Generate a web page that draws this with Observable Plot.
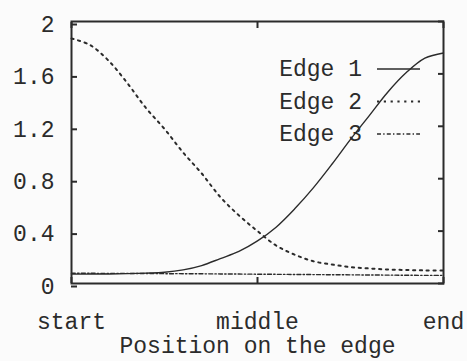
<!DOCTYPE html>
<html>
<head>
<meta charset="utf-8">
<script src="https://cdn.jsdelivr.net/npm/d3@7"></script>
<script src="https://cdn.jsdelivr.net/npm/@observablehq/plot@0.6"></script>
<style>
  html, body { margin: 0; padding: 0; background: #fbfbfb; }
</style>
</head>
<body>
<div id="chart"></div>
<script>
// Position along the edge, as a fraction from start (0) to end (1)
const position = [0, 0.05, 0.1, 0.15, 0.2, 0.25, 0.3, 0.35, 0.4, 0.45, 0.5,
                  0.55, 0.6, 0.65, 0.7, 0.75, 0.8, 0.85, 0.9, 0.95, 1];

// Values of the three edges at each position
const edge1 = [0.072, 0.072, 0.073, 0.075, 0.079, 0.086, 0.104, 0.137, 0.19, 0.245, 0.325,
               0.43, 0.57, 0.73, 0.91, 1.10, 1.28, 1.46, 1.61, 1.72, 1.76];
const edge2 = [1.87, 1.82, 1.70, 1.53, 1.34, 1.18, 1.00, 0.84, 0.66, 0.52, 0.40,
               0.29, 0.22, 0.17, 0.145, 0.125, 0.115, 0.107, 0.103, 0.10, 0.10];
const edge3 = [0.078, 0.078, 0.077, 0.077, 0.076, 0.075, 0.075, 0.074, 0.073, 0.072, 0.071,
               0.070, 0.069, 0.068, 0.067, 0.066, 0.065, 0.064, 0.063, 0.062, 0.062];

const seriesNames = ["Edge 1", "Edge 2", "Edge 3"];
const xTickValues = [0, 0.5, 1];
const xTickLabels = ["start", "middle", "end"];
const yTicks = [0, 0.4, 0.8, 1.2, 1.6, 2];
const axisTitle = "Position on the edge";

const ink = "#2b2b2b";
const font = "'Courier New', 'Liberation Mono', monospace";
const dashes = ["none", "2.2 4.6", "4 2.2 1.4 2.2"];
const widths = [1.4, 2, 1.4];

const rows = [edge1, edge2, edge3].flatMap((vals, s) =>
  vals.map((v, i) => ({series: seriesNames[s], position: position[i], value: v})));

// In-frame key: name on the left, line sample on the right
function key(index, scales, values, dimensions) {
  const right = dimensions.width - dimensions.marginRight;
  const top = dimensions.marginTop;
  const g = d3.create("svg:g")
    .attr("font-family", font)
    .attr("font-size", 23)
    .attr("fill", ink);
  seriesNames.forEach((name, i) => {
    const cy = top + 48 + i * 32.5;
    g.append("text")
      .attr("x", right - 81).attr("y", cy).attr("dy", "0.32em")
      .attr("text-anchor", "end").text(name);
    g.append("line")
      .attr("x1", right - 66).attr("x2", right - 23)
      .attr("y1", cy).attr("y2", cy)
      .attr("stroke", ink).attr("stroke-width", widths[i])
      .attr("stroke-dasharray", dashes[i]);
  });
  return g.node();
}

const chart = Plot.plot({
  width: 467,
  height: 361,
  marginLeft: 71,
  marginRight: 24,
  marginTop: 21,
  marginBottom: 78,
  style: {fontFamily: font, fontSize: "23px", color: ink, background: "#fbfbfb"},
  x: {domain: [0, 1], label: null},
  y: {domain: [0, 2], label: null},
  marks: [
    ...seriesNames.map((name, s) =>
      Plot.line(rows.filter(d => d.series === name), {
        x: "position", y: "value", curve: "catmull-rom",
        stroke: ink, strokeWidth: widths[s], strokeDasharray: dashes[s]
      })),
    Plot.axisY(yTicks, {anchor: "left", tickSize: -6, tickPadding: 23, dy: 3,
      strokeWidth: 2, tickFormat: d => String(d)}),
    Plot.axisY(yTicks, {anchor: "right", tickSize: -6, strokeWidth: 2, tickFormat: () => ""}),
    Plot.axisX(xTickValues, {anchor: "bottom", tickSize: -6, tickPadding: 35, strokeWidth: 2,
      tickFormat: d => xTickLabels[xTickValues.indexOf(d)]}),
    Plot.axisX(xTickValues, {anchor: "top", tickSize: -6, strokeWidth: 2, tickFormat: () => ""}),
    Plot.text([axisTitle], {frameAnchor: "bottom", dy: 62, lineAnchor: "middle",
      text: d => d, fontSize: 23, fill: ink}),
    Plot.frame({stroke: ink, strokeWidth: 2}),
    key
  ]
});

document.getElementById("chart").appendChild(chart);
</script>
</body>
</html>
